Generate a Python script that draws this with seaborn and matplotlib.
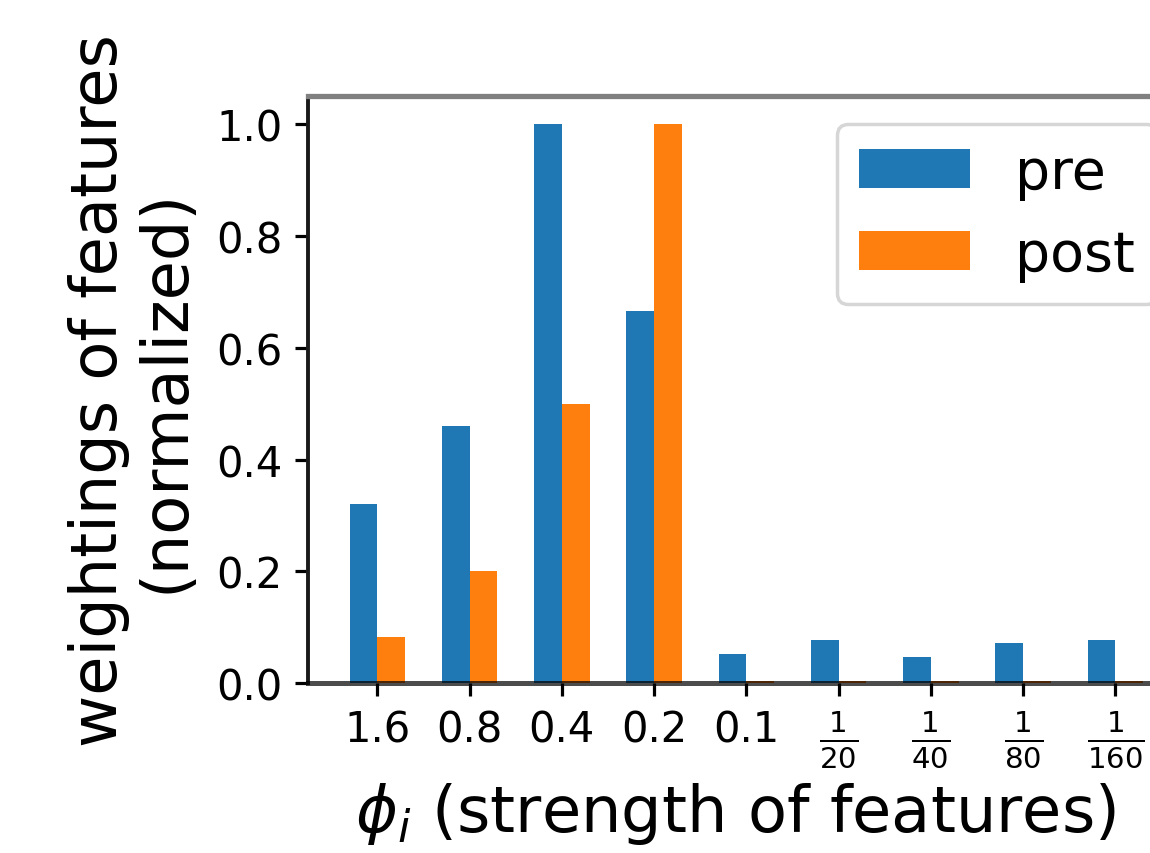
import matplotlib
matplotlib.use("Agg")
import matplotlib.pyplot as plt
import seaborn as sns
import pandas as pd

# values
phi_labels = ["1.6", "0.8", "0.4", "0.2", "0.1",
              r"$\frac{1}{20}$", r"$\frac{1}{40}$", r"$\frac{1}{80}$", r"$\frac{1}{160}$"]
pre = [0.32, 0.46, 1.0, 0.665, 0.052, 0.077, 0.047, 0.072, 0.077]
post = [0.082, 0.20, 0.50, 1.0, 0.003, 0.003, 0.003, 0.003, 0.003]
series = ["pre", "post"]
colors = ["#1f77b4", "#ff7f0e"]

df = pd.DataFrame({
    "phi": phi_labels * 2,
    "value": pre + post,
    "series": ["pre"] * len(pre) + ["post"] * len(post),
})

plt.rcParams["font.family"] = ["DejaVu Sans"]
plt.rcParams["mathtext.fontset"] = "dejavusans"

fig = plt.figure(figsize=(11.5, 8.54), dpi=100)
ax = fig.add_axes([0.268, 0.199, 0.762, 0.687])

sns.barplot(data=df, x="phi", y="value", hue="series", hue_order=series,
            order=phi_labels, palette=colors, saturation=1, width=0.6,
            errorbar=None, ax=ax)

ax.set_xlim(-0.75, 8.75)
ax.set_ylim(0, 1.05)
ax.set_yticks([0.0, 0.2, 0.4, 0.6, 0.8, 1.0])
ax.set_yticklabels(["0.0", "0.2", "0.4", "0.6", "0.8", "1.0"])

ax.tick_params(axis="both", labelsize=30, length=9.5, width=2.3, pad=9)
ax.set_xlabel(r"$\phi_i$ (strength of features)", fontsize=46)
ax.xaxis.set_label_coords(0.487, -0.165)
ax.set_ylabel("weightings of features\n(normalized)", fontsize=46, labelpad=14,
              linespacing=1.1)

ax.spines["left"].set_color("#1a1a1a")
ax.spines["left"].set_linewidth(2.8)
ax.spines["top"].set_color("#808080")
ax.spines["top"].set_linewidth(3.8)
ax.spines["bottom"].set_color("black")
ax.spines["bottom"].set_alpha(0.7)
ax.spines["bottom"].set_linewidth(3.6)
ax.spines["bottom"].set_zorder(5)
ax.spines["right"].set_visible(False)

leg = ax.legend(loc="upper right", fontsize=40, frameon=True, fancybox=True)
leg.get_frame().set_edgecolor("#cccccc")
leg.get_frame().set_linewidth(2.5)

fig.savefig("out.png", dpi=100)
